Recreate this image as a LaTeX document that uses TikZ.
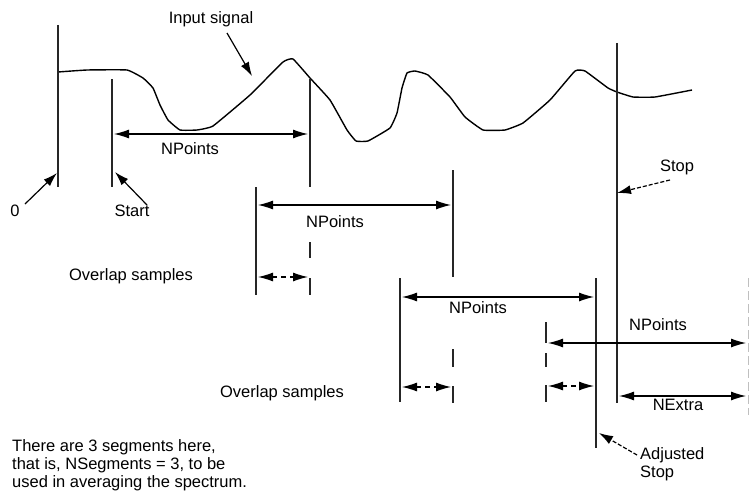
\documentclass[tikz,border=0pt]{standalone}
\usepackage{fontspec}
\setmainfont{Liberation Sans}
\usetikzlibrary{arrows.meta}

\begin{document}
\begin{tikzpicture}[x=1pt, y=-1pt,
        % Stili per le linee
        marker/.style={line width=1.2pt, draw=black!85},
        ghost/.style={line width=1pt, draw=black!25, dash pattern=on 9pt off 4pt},
        signal/.style={line width=1.4pt, line join=round},
        % Stili per le frecce e le etichette
        dim/.style={{Latex[length=15pt,width=9pt]}-{Latex[length=15pt,width=9pt]}, line width=1.1pt, shorten >=2pt, shorten <=2pt},
        ovl/.style={dim, dash pattern=on 5pt off 4pt},
        pointer/.style={-{Latex[length=14pt,width=9pt]}, line width=1.2pt},
        lbl/.style={font=\fontsize{16.5}{18}\selectfont, inner sep=0pt}
    ]
    \useasboundingbox (0,0) rectangle (749,495);

    % --- INPUT SIGNAL ---
    \draw[signal] plot[smooth, tension=0.2] coordinates {
        (58,72) (87,70) (127,70) (143,78) (153,88) (160,105) (168,120) (180,130)
        (197,130) (213,126) (250,95) (283,62) (293,59) (310,78) (330,100) (347,130)
        (356,141) (368,141) (390,128) (397,113) (402,88) (407,73) (415,71) (428,75)
        (450,97) (465,117) (483,130) (505,130) (523,123) (550,100) (575,71) (585,71)
        (608,88) (617,92) (633,97) (655,97) (692,90)};
    \node[lbl] (insig) at (211,19) {Input signal};
    \coordinate (insigHit) at (252,76);
    \draw[pointer] (227,33) -- (insigHit);

    % --- MARKER LINES ---
    \draw[marker] (58,25) coordinate (zeroT) -- (58,187) coordinate (zeroB);
    \draw[marker] (112,79) coordinate (startT) -- (112,187) coordinate (startB);
    \draw[marker] (310,79) -- (310,187);
    \foreach \ya/\yb in {242/258, 278/295} {
        \draw[marker] (310,\ya) -- (310,\yb);
    }
    \draw[marker] (256,187) -- (256,295);
    \draw[marker] (453,170) -- (453,277);
    \foreach \ya/\yb in {349/367, 386/403} {
        \draw[marker] (453,\ya) -- (453,\yb);
    }
    \draw[marker] (400,278) -- (400,402);
    \draw[marker] (596,278) -- (596,448) coordinate (adjB);
    \draw[marker] (546,322) -- (546,343);
    \foreach \ya/\yb in {353/367, 385/402} {
        \draw[marker] (546,\ya) -- (546,\yb);
    }
    \draw[marker] (617,43) coordinate (stopT) -- (617,403) coordinate (stopB);
    \draw[ghost] (748,278) -- (748,415);

    % --- NPOINTS ARROWS ---
    \draw[dim] (112,134) coordinate (npA1) -- (310,134) coordinate (npB1);
    \draw[dim] (256,205) coordinate (npA2) -- (453,205) coordinate (npB2);
    \draw[dim] (400,297) coordinate (npA3) -- (596,297) coordinate (npB3);
    \draw[dim] (546,343) coordinate (npA4) -- (748,343) coordinate (npB4);
    \node[lbl] (np1) at (190,149) {NPoints};
    \node[lbl] (np2) at (335,222) {NPoints};
    \node[lbl] (np3) at (478,308) {NPoints};
    \node[lbl] (np4) at (658,325) {NPoints};

    % --- OVERLAP ARROWS ---
    \draw[ovl] (256,277) coordinate (ovA1) -- (310,277) coordinate (ovB1);
    \draw[ovl] (400,387) coordinate (ovA2) -- (453,387) coordinate (ovB2);
    \draw[ovl] (546,386) coordinate (ovA3) -- (596,386) coordinate (ovB3);
    \node[lbl] (ov1) at (131,276) {Overlap samples};
    \node[lbl] (ov2) at (282,393) {Overlap samples};

    % --- NEXTRA ---
    \draw[dim] (617,396) coordinate (nxA) -- (748,396) coordinate (nxB);
    \node[lbl] (nextra) at (678,405) {NExtra};

    % --- POINTER LABELS ---
    \node[lbl] (zero) at (15,211) {0};
    \coordinate (zeroHit) at (57,173);
    \draw[pointer] (25,204) -- (zeroHit);
    \node[lbl] (start) at (132,211) {Start};
    \coordinate (startHit) at (115,172);
    \draw[pointer] (147,205) -- (startHit);
    \node[lbl] (stop) at (677,167) {Stop};
    \coordinate (stopHit) at (617,193);
    \draw[pointer, dash pattern=on 4pt off 2pt] (670,180) -- (stopHit);
    \node[lbl, align=left, anchor=north west] (adjstop) at (640,447) {Adjusted\\Stop};
    \coordinate (adjHit) at (599,433);
    \draw[pointer, dash pattern=on 4pt off 2pt] (637,455) -- (adjHit);

    % --- NOTE ---
    \node[lbl, align=left, anchor=north west] (note) at (12,439)
        {There are 3 segments here,\\that is, NSegments = 3, to be\\used in averaging the spectrum.};

\end{tikzpicture}
\end{document}
